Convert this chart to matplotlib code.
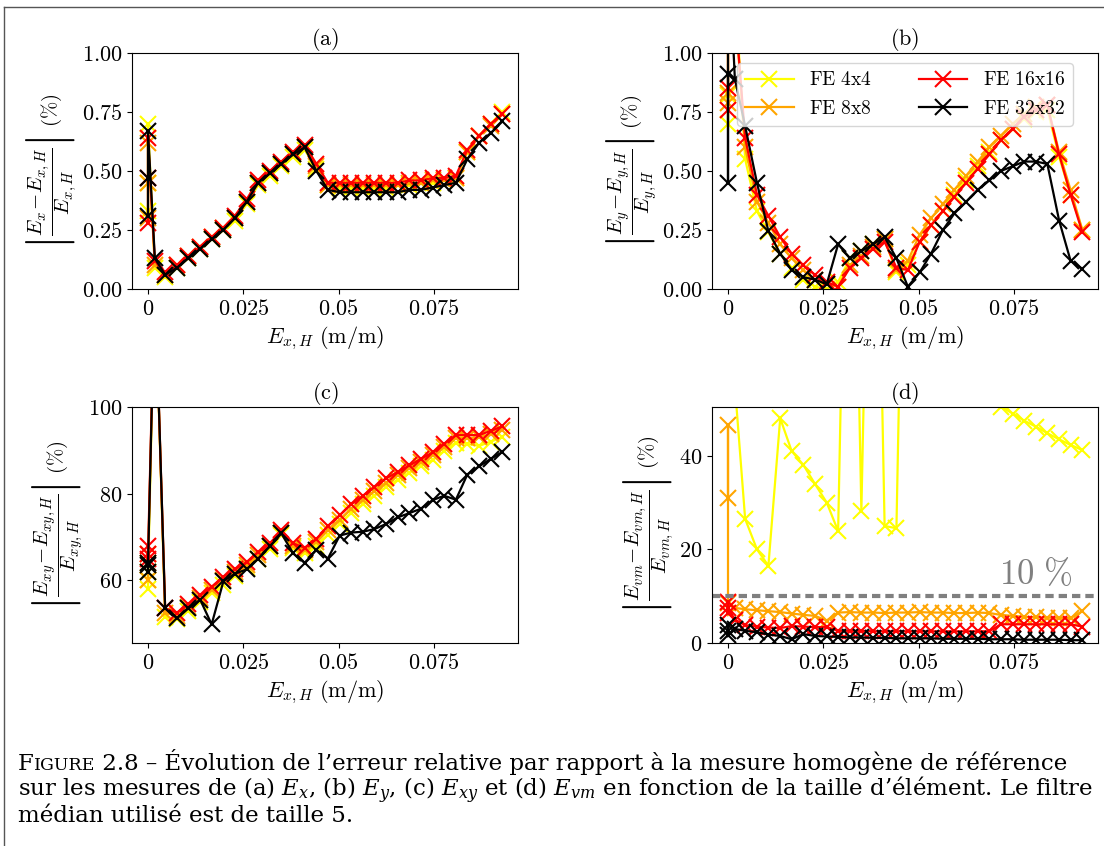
import matplotlib
matplotlib.use('Agg')
import matplotlib.pyplot as plt
from matplotlib.lines import Line2D

plt.rcParams['mathtext.fontset'] = 'cm'

# reference homogeneous strain (same for every mesh)
x_h = [0.0, 0.0, 0.0, 0.0018,
       0.0045, 0.0076, 0.0106, 0.0137, 0.0167, 0.0198, 0.0228, 0.0259, 0.0289, 0.0320,
       0.0350, 0.0381, 0.0411, 0.0442, 0.0472, 0.0503, 0.0533, 0.0564, 0.0594, 0.0625,
       0.0655, 0.0686, 0.0716, 0.0747, 0.0777, 0.0808, 0.0838, 0.0869, 0.0899, 0.0930]

# (a) Ex
ex_4 = [0.33, 0.45, 0.70, 0.09,
        0.05, 0.09, 0.13, 0.17, 0.21, 0.25, 0.29, 0.36, 0.44, 0.48,
        0.52, 0.56, 0.59, 0.51, 0.44, 0.43, 0.43, 0.43, 0.43, 0.43,
        0.44, 0.44, 0.45, 0.45, 0.46, 0.47, 0.58, 0.65, 0.70, 0.75]
ex_8 = [0.30, 0.45, 0.62, 0.10,
        0.06, 0.10, 0.14, 0.18, 0.22, 0.26, 0.30, 0.37, 0.45, 0.49,
        0.53, 0.57, 0.60, 0.52, 0.44, 0.44, 0.44, 0.44, 0.44, 0.44,
        0.44, 0.45, 0.45, 0.46, 0.46, 0.47, 0.58, 0.65, 0.69, 0.74]
ex_16 = [0.28, 0.47, 0.64, 0.12,
         0.07, 0.10, 0.14, 0.18, 0.22, 0.26, 0.31, 0.38, 0.46, 0.50,
         0.54, 0.58, 0.61, 0.53, 0.45, 0.45, 0.45, 0.45, 0.45, 0.45,
         0.45, 0.46, 0.46, 0.47, 0.47, 0.48, 0.59, 0.65, 0.70, 0.74]
ex_32 = [0.31, 0.47, 0.67, 0.13,
         0.06, 0.09, 0.13, 0.17, 0.21, 0.25, 0.30, 0.37, 0.45, 0.49,
         0.53, 0.57, 0.60, 0.50, 0.42, 0.41, 0.41, 0.41, 0.41, 0.41,
         0.41, 0.42, 0.42, 0.43, 0.44, 0.45, 0.55, 0.62, 0.66, 0.71]

# (b) Ey
ey_4 = [0.82, 0.70, 1.50, 1.30,
        0.55, 0.33, 0.24, 0.15, 0.09, 0.04, 0.01, 0.00, 0.03, 0.13,
        0.16, 0.19, 0.21, 0.07, 0.10, 0.20, 0.27, 0.33, 0.40, 0.46,
        0.52, 0.58, 0.63, 0.68, 0.72, 0.75, 0.76, 0.56, 0.40, 0.25]
ey_8 = [0.79, 0.83, 1.40, 1.20,
        0.60, 0.37, 0.28, 0.19, 0.13, 0.08, 0.04, 0.02, 0.01, 0.10,
        0.14, 0.18, 0.21, 0.08, 0.12, 0.23, 0.30, 0.36, 0.42, 0.48,
        0.54, 0.60, 0.65, 0.70, 0.74, 0.77, 0.78, 0.58, 0.42, 0.25]
ey_16 = [0.76, 0.85, 1.30, 1.20,
         0.64, 0.40, 0.31, 0.22, 0.15, 0.10, 0.06, 0.03, 0.01, 0.09,
         0.13, 0.17, 0.20, 0.09, 0.08, 0.20, 0.27, 0.33, 0.39, 0.45,
         0.51, 0.57, 0.63, 0.68, 0.73, 0.76, 0.78, 0.57, 0.40, 0.24]
ey_32 = [0.91, 0.45, 1.50, 0.89,
         0.69, 0.45, 0.245, 0.15, 0.08, 0.05, 0.04, 0.02, 0.19, 0.13,
         0.16, 0.19, 0.22, 0.13, 0.01, 0.07, 0.15, 0.25, 0.32, 0.37,
         0.42, 0.46, 0.50, 0.52, 0.54, 0.54, 0.53, 0.29, 0.12, 0.085]

# (c) Exy
exy_4 = [58.0, 62.0, 60.0, 130.0,
         51.5, 51.0, 53.0, 55.0, 57.0, 59.0, 61.0, 62.8, 65.0, 67.2,
         70.5, 67.5, 66.2, 68.0, 70.5, 73.0, 75.5, 77.5, 79.5, 81.5,
         83.2, 84.8, 86.3, 87.8, 89.8, 91.8, 91.5, 91.0, 92.0, 93.0]
exy_8 = [60.0, 66.0, 64.0, 130.0,
         52.5, 51.8, 53.8, 55.8, 57.8, 60.0, 61.8, 63.5, 65.8, 68.0,
         71.0, 68.0, 67.0, 68.8, 71.5, 74.0, 76.5, 78.5, 80.5, 82.5,
         84.2, 85.8, 87.3, 88.8, 90.8, 92.8, 92.8, 93.0, 93.8, 94.8]
exy_16 = [65.0, 68.0, 66.0, 130.0,
          53.5, 52.5, 54.5, 56.5, 58.5, 60.8, 62.5, 64.2, 66.5, 68.5,
          71.5, 68.5, 67.5, 69.5, 72.5, 75.0, 77.5, 79.5, 81.5, 83.5,
          85.0, 86.5, 88.0, 89.5, 91.5, 93.5, 93.5, 93.5, 94.5, 95.5]
exy_32 = [62.0, 64.0, 63.5, 130.0,
          53.5, 51.2, 53.5, 55.5, 49.8, 59.8, 61.5, 62.5, 65.0, 67.8,
          70.8, 66.2, 64.0, 67.0, 65.0, 70.3, 71.0, 71.2, 71.8, 73.0,
          74.5, 75.5, 76.5, 78.5, 79.5, 78.6, 84.4, 86.3, 88.0, 89.6]

# (d) Evm
evm_4 = [80.0, 70.0, 75.0, 55.0,
         26.5, 20.0, 16.5, 48.0, 41.0, 38.0, 34.0, 30.0, 23.9, 150.0,
         28.2, 150.0, 25.0, 24.5, 150.0, 160.0, 170.0, 150.0, 130.0, 110.0,
         90.0, 70.0, 50.5, 49.0, 47.5, 46.2, 44.8, 43.5, 42.3, 41.2]
evm_8 = [31.0, 46.5, 8.5, 7.5,
         7.2, 7.0, 6.8, 6.6, 6.3, 6.0, 5.8, 4.8, 6.5, 6.6,
         6.5, 6.5, 6.4, 6.5, 6.5, 6.6, 6.5, 6.5, 6.4, 6.4,
         6.5, 6.4, 6.0, 5.8, 5.6, 5.5, 5.4, 5.4, 5.3, 6.8]
evm_16 = [8.7, 6.5, 7.5, 5.0,
          3.8, 3.5, 3.3, 3.2, 3.6, 3.5, 3.4, 3.4, 2.6, 2.6,
          2.6, 2.5, 2.5, 2.5, 2.5, 2.5, 2.5, 2.5, 2.5, 2.5,
          2.5, 2.5, 4.0, 4.0, 4.0, 4.0, 4.0, 4.0, 4.0, 3.5]
evm_32 = [3.8, 2.5, 1.8, 3.0,
          2.6, 2.3, 1.8, 1.5, 0.8, 1.9, 1.5, 1.4, 1.3, 1.2,
          1.2, 1.1, 1.1, 1.0, 1.0, 1.0, 1.0, 0.9, 0.9, 0.9,
          0.9, 0.8, 0.8, 0.8, 0.7, 0.7, 0.7, 0.7, 0.6, 0.6]

mesh_labels = ['FE 4x4', 'FE 8x8', 'FE 16x16', 'FE 32x32']
colours = ['#ffff00', '#ffa500', '#ff0000', '#000000']

x_ticks = [0, 0.025, 0.05, 0.075]
x_ticklabels = ['0', '0.025', '0.05', '0.075']

panels = [
    ('(a)', [ex_4, ex_8, ex_16, ex_32], 'x', 'x,H', (0, 1), [0, 0.25, 0.5, 0.75, 1.0],
     ['0.00', '0.25', '0.50', '0.75', '1.00']),
    ('(b)', [ey_4, ey_8, ey_16, ey_32], 'y', 'y,H', (0, 1), [0, 0.25, 0.5, 0.75, 1.0],
     ['0.00', '0.25', '0.50', '0.75', '1.00']),
    ('(c)', [exy_4, exy_8, exy_16, exy_32], 'xy', 'xy,H', (45.5, 100), [60, 80, 100],
     ['60', '80', '100']),
    ('(d)', [evm_4, evm_8, evm_16, evm_32], 'vm', 'vm,H', (0, 50.4), [0, 20, 40],
     ['0', '20', '40']),
]

fig = plt.figure(figsize=(11.04, 8.46), dpi=100)
W, H = 1104, 846
boxes = [(132, 53), (712, 53), (132, 407), (712, 407)]
aw, ah = 386, 236

for (title, series, sub, subh, ylim, yt, ytl), (px, py) in zip(panels, boxes):
    ax = fig.add_axes([px / W, 1 - (py + ah) / H, aw / W, ah / H])
    for y, c, lab in zip(series, colours, mesh_labels):
        ax.plot(x_h, y, color=c, marker='x', markersize=11, markeredgewidth=1.5,
                linewidth=1.6, label=r'$\mathrm{' + lab.replace(' ', r'\ ') + '}$')
    ax.set_xlim(-0.0042, 0.0971)
    ax.set_ylim(*ylim)
    ax.set_xticks(x_ticks, ['$' + t + '$' for t in x_ticklabels])
    ax.set_yticks(yt, ['$' + t + '$' for t in ytl])
    ax.tick_params(labelsize=16)
    ax.set_title(r'$\mathrm{' + title + '}$', fontsize=16)
    ax.set_xlabel(r'$E_{x,H}\ \mathrm{(m/m)}$', fontsize=16)
    ax.set_ylabel(r'$\left|\dfrac{E_{%s}\!-\!E_{%s}}{E_{%s}}\right|\ \mathrm{(\%%)}$'
                  % (sub, subh, subh), fontsize=15, labelpad=2)
    if title == '(b)':
        ax.legend(loc='upper center', ncol=2, fontsize=14, handlelength=2.5,
                  columnspacing=2.4)
    if title == '(d)':
        ax.axhline(10, color='#808080', linewidth=3, linestyle=(0, (2, 1.2)))
        ax.text(0.0808, 12.5, r'$10\ \%$', color='#808080', fontsize=25, ha='center')

# page frame
fig.add_artist(Line2D([4 / W, 1], [1 - 7 / H, 1 - 7 / H], color='#555555', linewidth=1))
fig.add_artist(Line2D([4 / W, 4 / W], [0, 1 - 7 / H], color='#555555', linewidth=1))

# caption with small caps "Figure"
cap = dict(family='DejaVu Serif', math_fontfamily='dejavuserif', va='baseline')
lines = [
    [('F', 16.5), ('IGURE', 12.5), (' 2.8 – Évolution de l’erreur relative par rapport à la mesure '
                                    'homogène de référence', 16.5)],
    [('sur les mesures de (a) $E_x$, (b) $E_y$, (c) $E_{xy}$ et (d) $E_{vm}$ en fonction '
      'de la taille d’élément. Le filtre', 16.5)],
    [('médian utilisé est de taille 5.', 16.5)],
]
baselines = [770, 796, 822]
renderer = fig.canvas.get_renderer()
for parts, yb in zip(lines, baselines):
    xpos = 18 / W
    for txt, size in parts:
        t = fig.text(xpos, 1 - yb / H, txt, fontsize=size, **cap)
        bb = t.get_window_extent(renderer=renderer)
        xpos = bb.x1 / W

fig.savefig('out.png', dpi=100)
